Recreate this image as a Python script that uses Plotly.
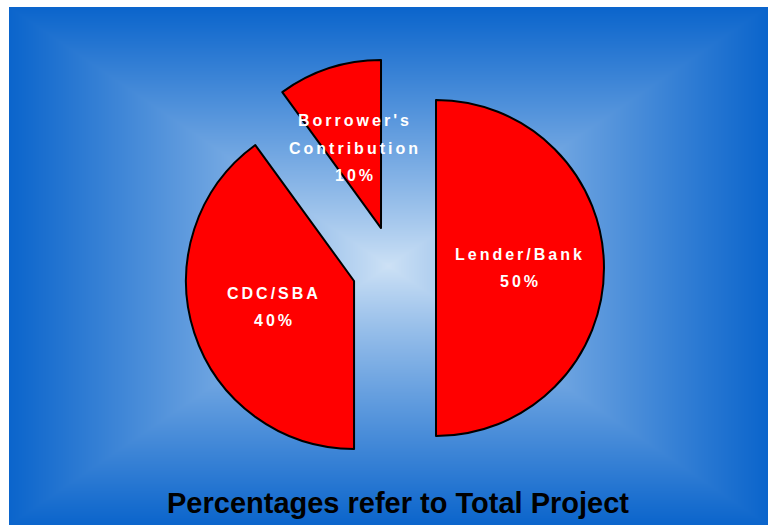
import base64, struct, zlib
import numpy as np
import plotly.graph_objects as go

# ---- data ----
labels = ["Lender/Bank", "CDC/SBA", "Borrower's<br>Contribution"]
label_lines = [["Lender/Bank"], ["CDC/SBA"], ["Borrower's", "Contribution"]]
values = [50, 40, 10]
title_text = "Percentages refer to Total Project"

# ---- background gradient image (rectangular "from center" gradient) ----
W, H = 759, 518
edge = np.array([11, 101, 204], dtype=float)
center = np.array([206, 226, 246], dtype=float)
xs = (np.arange(W) + 0.5 - W / 2) / (W / 2)
ys = (np.arange(H) + 0.5 - H / 2) / (H / 2)
t = np.maximum(np.abs(xs)[None, :], np.abs(ys)[:, None])
t = np.clip(t, 0, 1) ** 0.9
img = (center[None, None, :] * (1 - t[..., None]) + edge[None, None, :] * t[..., None])
img = np.clip(img, 0, 255).astype(np.uint8)

def png_bytes(arr):
    h, w, _ = arr.shape
    raw = b"".join(b"\x00" + arr[r].tobytes() for r in range(h))
    def chunk(tag, data):
        c = struct.pack(">I", len(data)) + tag + data
        return c + struct.pack(">I", zlib.crc32(tag + data) & 0xFFFFFFFF)
    return (b"\x89PNG\r\n\x1a\n" + chunk(b"IHDR", struct.pack(">IIBBBBB", w, h, 8, 2, 0, 0, 0))
            + chunk(b"IDAT", zlib.compress(raw, 9)) + chunk(b"IEND", b""))

bg_uri = "data:image/png;base64," + base64.b64encode(png_bytes(img)).decode()

FIG_W, FIG_H = 768, 525
pull = 0.25
# pie box centred at (394, 268) px, 420 px square
dom_x = [(394 - 210) / FIG_W, (394 + 210) / FIG_W]
dom_y = [1 - (268 + 210) / FIG_H, 1 - (268 - 210) / FIG_H]

fig = go.Figure()
fig.add_trace(go.Pie(
    labels=labels, values=values, sort=False, direction="clockwise", rotation=0,
    pull=[pull] * len(values),
    marker=dict(colors=["#ff0000"] * len(values), line=dict(color="#000000", width=2)),
    textinfo="none", hoverinfo="label+percent", showlegend=False,
    domain=dict(x=dom_x, y=dom_y),
))

# label positions derived from the pie geometry
box_w = (dom_x[1] - dom_x[0]) * FIG_W
box_h = (dom_y[1] - dom_y[0]) * FIG_H
r = min(box_w, box_h) / (2 + 2 * pull)
cx = (dom_x[0] + dom_x[1]) / 2 * FIG_W
cy = (dom_y[0] + dom_y[1]) / 2 * FIG_H
total = sum(values)
k = 0.5           # radial placement of labels (fraction of radius)
line_gap = 27.5
cum = 0
for v, lines in zip(values, label_lines):
    mid = 2 * np.pi * (cum + v / 2) / total
    cum += v
    d = (pull + k) * r
    px = cx + d * np.sin(mid)
    py = cy + d * np.cos(mid)
    all_lines = lines + [f"{round(100 * v / total)}%"]
    n = len(all_lines)
    for i, txt in enumerate(all_lines):
        fig.add_annotation(
            x=px / FIG_W, y=py / FIG_H, xref="paper", yref="paper",
            text=f"<span style='letter-spacing:3px'>{txt}</span>",
            showarrow=False, xanchor="center", yanchor="middle",
            yshift=((n - 1) / 2 - i) * line_gap,
            font=dict(family="Liberation Sans, Arial, sans-serif", size=16, color="white", weight="bold"),
        )

fig.add_annotation(
    x=397.5 / FIG_W, y=1 - 503 / FIG_H, xref="paper", yref="paper",
    text=title_text, showarrow=False, xanchor="center", yanchor="middle",
    font=dict(family="Liberation Sans, Arial, sans-serif", size=29, color="black", weight="bold"),
)

fig.add_layout_image(dict(
    source=bg_uri, xref="paper", yref="paper",
    x=9 / FIG_W, y=1 - 7 / FIG_H, sizex=W / FIG_W, sizey=H / FIG_H,
    xanchor="left", yanchor="top", sizing="stretch", layer="below",
))

fig.update_layout(
    width=FIG_W, height=FIG_H, margin=dict(l=0, r=0, t=0, b=0),
    paper_bgcolor="white", plot_bgcolor="white",
)

fig.write_html("out.html")
